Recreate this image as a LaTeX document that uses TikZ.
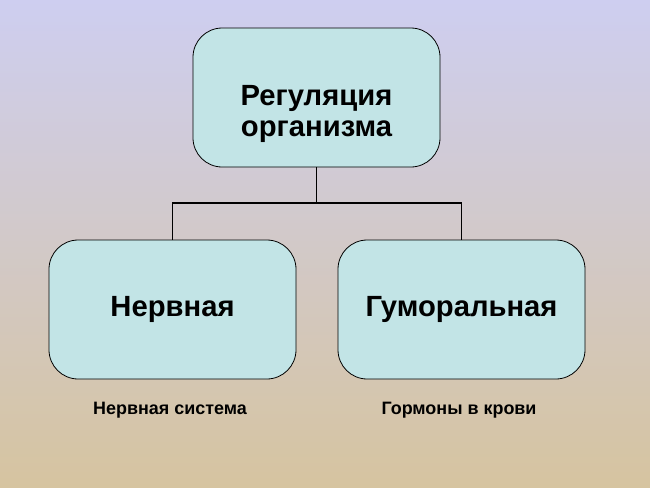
\documentclass[tikz,border=0pt]{standalone}
\usepackage{fontspec}
\setmainfont{Liberation Sans}
\definecolor{bgtop}{RGB}{206,206,240}
\definecolor{bgbot}{RGB}{214,196,160}
\definecolor{boxfill}{RGB}{194,228,230}
\tikzset{
  box/.style={draw=black, fill=boxfill, rounded corners=22, minimum width=247*0.0264583cm, minimum height=139*0.0264583cm, align=center, font=\fontsize{22}{24}\selectfont\bfseries, line width=0.6pt},
  lbl/.style={font=\fontsize{13.5}{16}\selectfont\bfseries},
  conn/.style={draw=black, line width=1.2pt}
}
\begin{document}
\begin{tikzpicture}[x=0.0264583cm, y=-0.0264583cm]
\shade[top color=bgtop, bottom color=bgbot] (0,0) rectangle (650,487);
\useasboundingbox (0,0) rectangle (650,487);
\node[box] (top) at (316.5,97.5) {};
\node[font=\fontsize{22}{24}\selectfont\bfseries, align=center] (toptext) at (316.5,114) {Регуляция\\организма};
\node[box] (left) at (172.5,309.5) {Нервная};
\node[box] (right) at (461.5,309.5) {Гуморальная};
\coordinate (mid) at (316.5,203);
\draw[conn] (top.south) -- (mid);
\draw[conn] (left.north) |- (mid) -| (right.north);
\node[lbl] (l1) at (170,410) {Нервная система};
\node[lbl] (l2) at (459,410) {Гормоны в крови};
\end{tikzpicture}
\end{document}
